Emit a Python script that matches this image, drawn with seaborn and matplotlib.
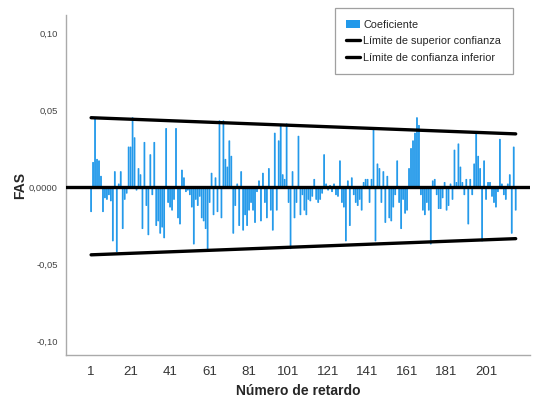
import numpy as np
import pandas as pd
import matplotlib
matplotlib.use("Agg")
import matplotlib.pyplot as plt
import seaborn as sns
from matplotlib.patches import Patch
from matplotlib.lines import Line2D

# ---- data ----
acf_values = [
    -0.016, 0.016, 0.045, 0.018, 0.017, 0.007, -0.016, -0.007, -0.008, -0.005,
    -0.009, -0.035, 0.010, -0.042, 0.002, 0.010, -0.027, -0.008, -0.004, 0.026,
    0.026, 0.045, 0.032, -0.002, 0.012, 0.008, -0.027, 0.029, -0.012, -0.031,
    0.021, -0.005, 0.029, -0.025,
    -0.022, -0.030, -0.026, -0.033, 0.038, -0.010, -0.013, -0.015, -0.008, 0.038,
    -0.020, -0.024, 0.011, 0.006, -0.003, -0.002, -0.005, -0.013, -0.037, -0.008,
    -0.012, -0.006, -0.020, -0.022, -0.027, -0.040, -0.010, 0.009, -0.018, 0.006,
    -0.016, 0.043, -0.020, 0.043, 0.018, 0.013, 0.030, 0.020,
    -0.030, -0.012, 0.002, -0.025, 0.010, -0.028, -0.018, -0.025, -0.015, -0.010,
    -0.015, -0.023, -0.003, 0.004, -0.022, 0.009, -0.010, -0.020, 0.012, -0.015,
    -0.028, 0.035, -0.015, 0.030, 0.040, 0.008, 0.005, 0.041, -0.010, -0.040,
    0.010, -0.020, -0.010, 0.033,
    -0.018, -0.005, -0.015, -0.018, -0.008, -0.009, -0.006, 0.005, -0.008, -0.010,
    -0.008, -0.004, 0.021, 0.002, -0.002, 0.001, -0.003, 0.002, -0.005, -0.006,
    0.017, -0.010, -0.013, -0.035, 0.004, -0.025, 0.006, -0.005, -0.010, -0.012,
    -0.008, -0.015, 0.003, 0.005, 0.005, -0.010, 0.005,
    0.037, -0.035, 0.015, 0.012, -0.010, 0.010, -0.023, 0.007, -0.020, -0.022,
    -0.013, -0.005, 0.017, -0.010, -0.027, -0.008, -0.017, -0.015, 0.012, 0.025,
    0.030, 0.035, 0.045, 0.040, -0.005, -0.015, -0.018, -0.010, -0.015, -0.037,
    0.004, 0.005, -0.005, -0.014, -0.014, -0.007, 0.003, -0.015,
    -0.012, 0.002, -0.008, 0.024, 0.003, 0.028, 0.013, 0.003, -0.005, 0.005,
    -0.024, 0.005, -0.005, 0.015, 0.036, 0.020, 0.012, -0.035, 0.017, -0.008,
    0.003, 0.003, -0.006, -0.010, -0.013, -0.003, 0.031, 0.002, -0.005, -0.008,
    0.002, 0.008, -0.030, 0.026, -0.015,
]
lags = list(range(1, len(acf_values) + 1))

bound_lags = [1, 216]
upper_bound = [0.045, 0.0345]
lower_bound = [-0.044, -0.0335]

x_ticks = [1, 21, 41, 61, 81, 101, 121, 141, 161, 181, 201]
y_ticks = [0.10, 0.05, 0.0, -0.05, -0.10]
y_tick_labels = ["0,10", "0,05", "0,0000", "-0,05", "-0,10"]

# ---- plotting ----
sns.set_style("white")
plt.rcParams["font.family"] = ["Liberation Sans", "DejaVu Sans"]

fig = plt.figure(figsize=(5.39, 4.04), dpi=100)
ax = fig.add_axes([0.1225, 0.121, 0.861, 0.842])

bar_color = "#2299ea"
df = pd.DataFrame({"lag": lags, "acf": acf_values})
sns.barplot(data=df, x="lag", y="acf", native_scale=True, width=0.45,
            color=bar_color, edgecolor=bar_color, linewidth=0.6,
            saturation=1, errorbar=None, ax=ax)
for p in ax.patches:
    p.set_snap(False)

bdf = pd.DataFrame({"lag": bound_lags, "up": upper_bound, "lo": lower_bound})
sns.lineplot(data=bdf, x="lag", y="up", color="black", linewidth=2.4, ax=ax)
sns.lineplot(data=bdf, x="lag", y="lo", color="black", linewidth=2.4, ax=ax)
ax.axhline(0, color="black", linewidth=2.4, zorder=3)

ax.set_xlim(-11.7, 223.3)
ax.set_ylim(-0.1091, 0.1117)
ax.set_xticks(x_ticks)
ax.set_xticklabels([str(t) for t in x_ticks], fontsize=9.5, color="#333333")
ax.set_yticks(y_ticks)
ax.set_yticklabels(y_tick_labels, fontsize=6.8, color="#444444")
ax.tick_params(axis="both", length=0, pad=6)
ax.tick_params(axis="x", pad=8)

for s in ["top", "right"]:
    ax.spines[s].set_visible(False)
for s in ["left", "bottom"]:
    ax.spines[s].set_color("#aaaaaa")
    ax.spines[s].set_linewidth(1.0)

ax.set_xlabel("Número de retardo", fontsize=10, fontweight="bold", labelpad=4)
ax.set_ylabel("FAS", fontsize=10, fontweight="bold", labelpad=1)

handles = [
    Patch(facecolor=bar_color, edgecolor="none"),
    Line2D([0], [0], color="black", linewidth=2.4),
    Line2D([0], [0], color="black", linewidth=2.4),
]
labels = ["Coeficiente", "Límite de superior confianza", "Límite de confianza inferior"]
leg = fig.legend(handles, labels, loc="upper left", bbox_to_anchor=(0.611, 0.993),
                 fontsize=7.8, frameon=True, fancybox=False, edgecolor="#888888",
                 handlelength=1.3, handletextpad=0.3, borderpad=1.05,
                 labelspacing=0.6)
leg.get_frame().set_linewidth(0.9)

fig.savefig("out.png", dpi=100)
